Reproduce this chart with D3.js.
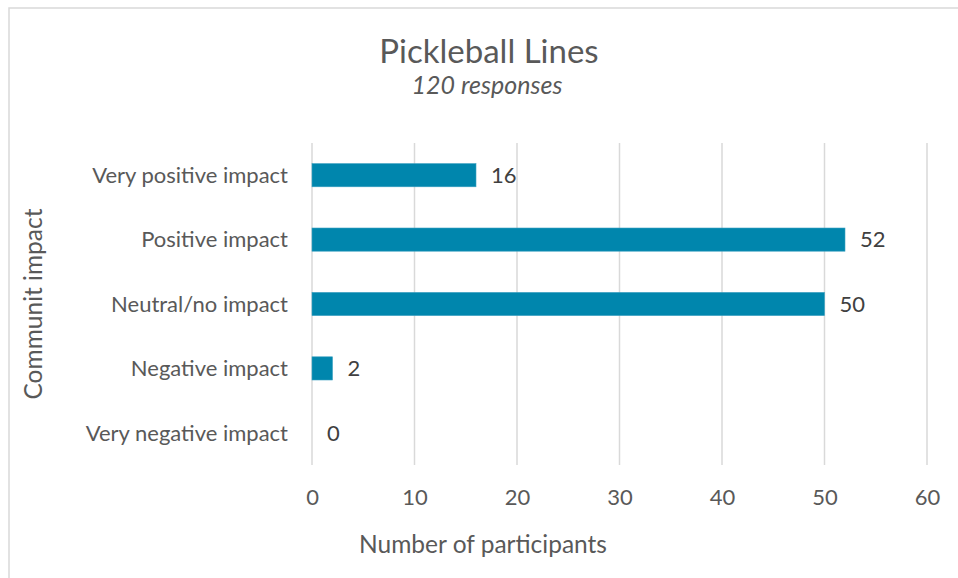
<!DOCTYPE html>
<html>
<head>
<meta charset="utf-8">
<script src="https://cdn.jsdelivr.net/npm/d3@7"></script>
<style>
  html, body { margin: 0; padding: 0; background: #fff; }
  svg { display: block; }
  text { font-family: Lato, "Open Sans", sans-serif; }
</style>
</head>
<body>
<div id="chart"></div>
<script>
// Survey answers: community impact of pickleball lines
const categories = ["Very positive impact", "Positive impact", "Neutral/no impact", "Negative impact", "Very negative impact"];
const counts = [16, 52, 50, 2, 0];
const xTicks = [0, 10, 20, 30, 40, 50, 60];
const titleText = "Pickleball Lines";
const subtitleText = "120 responses";
const xTitle = "Number of participants";
const yTitle = "Communit impact";

const W = 958, H = 578;
const margin = { left: 312, right: 31, top: 143, bottom: 113 };
const FONT = "Lato, 'Open Sans', sans-serif";

const svg = d3.select("#chart").append("svg")
  .attr("width", W).attr("height", H);

// chart frame
svg.append("rect")
  .attr("x", 9).attr("y", 8)
  .attr("width", W + 20).attr("height", H + 20)
  .attr("fill", "#fff")
  .attr("stroke", "#d9d9d9").attr("stroke-width", 1.5);

const x = d3.scaleLinear().domain([0, 60]).range([margin.left, W - margin.right]);
const y = d3.scaleBand().domain(categories)
  .range([margin.top, H - margin.bottom])
  .paddingInner(0.64).paddingOuter(0.32);

// vertical gridlines
svg.append("g")
  .selectAll("line").data(xTicks).join("line")
  .attr("x1", d => x(d)).attr("x2", d => x(d))
  .attr("y1", margin.top).attr("y2", H - margin.bottom)
  .attr("stroke", "#d9d9d9").attr("stroke-width", 1.5);

// x axis labels
const xAxis = d3.axisBottom(x).tickValues(xTicks).tickSize(0).tickPadding(0);
const gx = svg.append("g")
  .attr("transform", `translate(0,${H - margin.bottom + 40})`)
  .call(xAxis);
gx.select(".domain").remove();
gx.selectAll("text")
  .attr("dy", 0)
  .attr("fill", "#595959")
  .attr("font-size", 22)
  .attr("font-family", FONT);

// y axis labels
const yAxis = d3.axisLeft(y).tickSize(0).tickPadding(0);
const gy = svg.append("g")
  .attr("transform", `translate(${margin.left - 24},0)`)
  .call(yAxis);
gy.select(".domain").remove();
gy.selectAll("text")
  .attr("dy", "0.35em")
  .attr("fill", "#595959")
  .attr("font-size", 22)
  .attr("font-family", FONT);

// bars
svg.append("g")
  .selectAll("rect").data(categories).join("rect")
  .attr("x", x(0))
  .attr("y", d => y(d))
  .attr("width", (d, i) => x(counts[i]) - x(0))
  .attr("height", y.bandwidth())
  .attr("fill", "#0086ad")
  .attr("stroke", "#3aa0c0")
  .attr("stroke-width", 0.6)
  .attr("stroke-opacity", (d, i) => counts[i] > 0 ? 1 : 0);

// value labels
svg.append("g")
  .selectAll("text").data(categories).join("text")
  .attr("x", (d, i) => x(counts[i]) + 15)
  .attr("y", d => y(d) + y.bandwidth() / 2)
  .attr("dy", "0.35em")
  .attr("fill", "#404040")
  .attr("font-size", 22)
  .text((d, i) => counts[i]);

// titles
svg.append("text")
  .attr("x", 489).attr("y", 63)
  .attr("text-anchor", "middle")
  .attr("fill", "#595959")
  .attr("font-size", 33)
  .text(titleText);

svg.append("text")
  .attr("x", 487).attr("y", 94)
  .attr("text-anchor", "middle")
  .attr("fill", "#595959")
  .attr("font-size", 25)
  .attr("font-style", "italic")
  .text(subtitleText);

svg.append("text")
  .attr("x", 483).attr("y", 553)
  .attr("text-anchor", "middle")
  .attr("fill", "#595959")
  .attr("font-size", 24.5)
  .text(xTitle);

svg.append("text")
  .attr("transform", `translate(42,304) rotate(-90)`)
  .attr("text-anchor", "middle")
  .attr("fill", "#595959")
  .attr("font-size", 24.5)
  .text(yTitle);
</script>
</body>
</html>
